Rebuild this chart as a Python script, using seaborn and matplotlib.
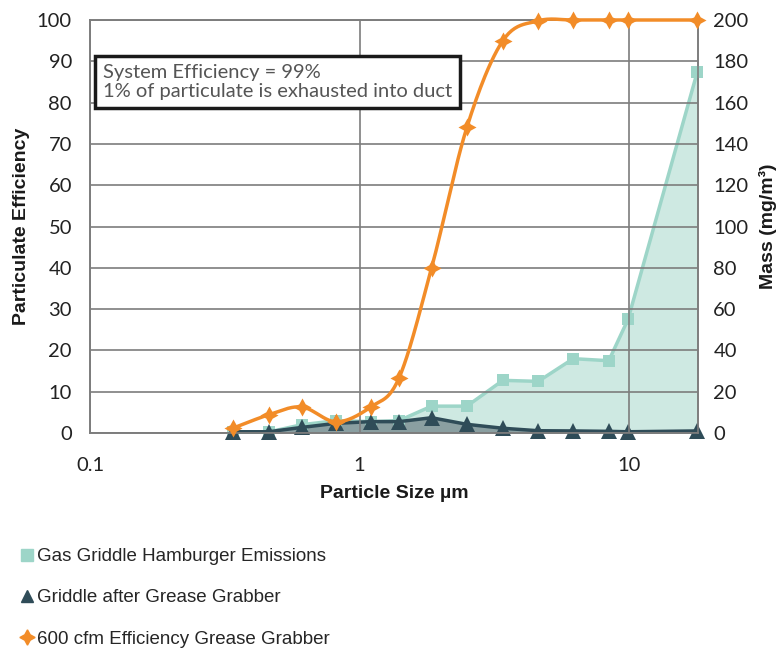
import numpy as np
import pandas as pd
import matplotlib
matplotlib.use("Agg")
import matplotlib.pyplot as plt
import seaborn as sns
from matplotlib.lines import Line2D

# particle size bins (um) and values
size_um = [0.34, 0.46, 0.61, 0.82, 1.1, 1.4, 1.85, 2.5, 3.4, 4.6, 6.2, 8.4, 9.9, 17.9]
efficiency = [1.2, 4.4, 6.3, 2.7, 6.3, 13.3, 40.0, 74.0, 95.0, 99.8, 100, 100, 100, 100]
hamburger_mass = [0.5, 0.5, 4.0, 6.0, 5.5, 6.0, 13.0, 13.0, 25.5, 25.0, 36.0, 35.0, 55.0, 175.0]
after_gg_mass = [0.6, 0.6, 2.7, 4.7, 5.5, 5.5, 7.4, 4.2, 2.3, 1.1, 1.0, 0.8, 0.6, 1.0]

left_ticks = list(range(0, 101, 10))
right_ticks = list(range(0, 201, 20))
x_ticks = [0.1, 1, 10]
x_ticklabels = ["0.1", "1", "10"]

legend_labels = ["Gas Griddle Hamburger Emissions",
                 "Griddle after Grease Grabber",
                 "600 cfm Efficiency Grease Grabber"]
box_text = "System Efficiency = 99%\n1% of particulate is exhausted into duct"

TEAL = "#9dd5c8"
TEAL_FILL = "#9fd4c7"
SLATE = "#2f4c58"
ORANGE = "#f28c28"
GRID = "#7d7d7d"


def catmull_rom(xs, ys, n=24):
    # smoothed line like the spreadsheet's "smoothed line" option
    pts = np.column_stack([xs, ys]).astype(float)
    p = np.vstack([pts[0], pts, pts[-1]])
    out = []
    t = np.linspace(0, 1, n, endpoint=False)[:, None]
    for i in range(1, len(p) - 2):
        p0, p1, p2, p3 = p[i - 1], p[i], p[i + 1], p[i + 2]
        seg = 0.5 * (2 * p1 + (-p0 + p2) * t + (2 * p0 - 5 * p1 + 4 * p2 - p3) * t ** 2
                     + (-p0 + 3 * p1 - 3 * p2 + p3) * t ** 3)
        out.append(seg)
    out.append(p[-2][None])
    return np.vstack(out)


sns.set_style("white")
plt.rcParams['font.family'] = ['Lato', 'DejaVu Sans']

fig = plt.figure(figsize=(7.82, 6.48), dpi=100)
ax = fig.add_axes([90 / 782, 1 - 433 / 648, (698 - 90) / 782, (433 - 20) / 648])
ax2 = ax.twinx()

df = pd.DataFrame({"size": size_um, "eff": efficiency,
                   "ham": hamburger_mass, "after": after_gg_mass})

# right axis: mass series with filled areas
ax2.fill_between(df["size"], 0, df["ham"], color=TEAL_FILL, alpha=0.5, lw=0, zorder=1)
sns.lineplot(data=df, x="size", y="ham", ax=ax2, color=TEAL, lw=2.5,
             marker="s", markersize=8, markeredgewidth=0, zorder=3, clip_on=False)
ax2.fill_between(df["size"], 0, df["after"], color="#5d6f76", alpha=0.6, lw=0, zorder=2)
sns.lineplot(data=df, x="size", y="after", ax=ax2, color=SLATE, lw=2.5,
             marker="^", markersize=11, markeredgewidth=0, zorder=4, clip_on=False)

# left axis: efficiency curve (smoothed) on top
ax.set_xscale("log")
ax2.set_xscale("log")
curve = catmull_rom(np.log10(size_um), efficiency)
sns.lineplot(x=10 ** curve[:, 0], y=curve[:, 1], sort=False, ax=ax, color=ORANGE,
             lw=2.5, zorder=5, clip_on=False)
ax.plot(size_um, efficiency, ls="none", marker=(4, 1, 0), markersize=13,
        color=ORANGE, markeredgewidth=0, zorder=6, clip_on=False)

ax.set_zorder(ax2.get_zorder() + 1)
ax.patch.set_visible(False)

ax.set_xlim(0.1, 18)
ax.set_ylim(0, 100)
ax2.set_ylim(0, 200)
ax.set_xticks(x_ticks)
ax.set_xticklabels(x_ticklabels)
ax.xaxis.set_minor_locator(matplotlib.ticker.NullLocator())
ax2.xaxis.set_minor_locator(matplotlib.ticker.NullLocator())
ax.set_yticks(left_ticks)
ax2.set_yticks(right_ticks)

ax.grid(True, color=GRID, lw=1.2)
ax2.grid(False)
for a in (ax, ax2):
    for s in a.spines.values():
        s.set_color(GRID)
        s.set_linewidth(1.2)
ax.tick_params(axis="y", length=0, pad=13, labelsize=14.5, labelcolor="#222222")
ax.tick_params(axis="x", length=0, pad=17, labelsize=14.5, labelcolor="#222222")
ax2.tick_params(axis="y", length=0, pad=11, labelsize=14.5, labelcolor="#222222")

bold = dict(family=["Liberation Sans", "DejaVu Sans"], fontweight="bold", fontsize=14, color="#1a1a1a")
ax.set_xlabel("Particle Size \u00b5m", **bold)
ax.set_ylabel("Particulate Efficiency", **bold)
ax2.set_ylabel("Mass (mg/m\u00b3)", **bold)
ax.xaxis.set_label_coords(0.5, -0.125)
ax.yaxis.set_label_coords(-0.098, 0.5)
ax2.yaxis.set_label_coords(1.1, 0.5)

ax.text(0.021, 0.85, box_text, transform=ax.transAxes, fontsize=14.5, color="#555555",
        family=["Lato", "DejaVu Sans"], va="center", ha="left", linespacing=1.2, zorder=10,
        bbox=dict(boxstyle="square,pad=0.38", fc="white", ec="#1a1a1a", lw=2.5))

handles = [Line2D([], [], ls="none", marker="s", color=TEAL, markersize=8),
           Line2D([], [], ls="none", marker="^", color=SLATE, markersize=9),
           Line2D([], [], ls="none", marker=(4, 1, 0), color=ORANGE, markersize=11)]
fig.legend(handles, legend_labels, loc="upper left", bbox_to_anchor=(0.003, 0.18),
           frameon=False, labelspacing=1.28, handletextpad=0.15, handlelength=0.8,
           prop={"family": ["Liberation Sans"], "size": 13.5})

fig.savefig("out.png", dpi=100)
